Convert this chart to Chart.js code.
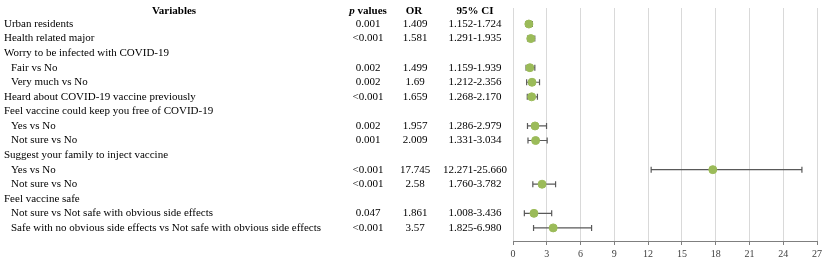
<!DOCTYPE html>
<html lang="en">
<head>
    <meta charset="UTF-8">
    <title>Forest plot</title>
    <script src="https://cdn.jsdelivr.net/npm/chart.js"></script>
    <style>
        html, body {
            margin: 0;
            padding: 0;
            background: #ffffff;
        }
        .chart-box {
            position: relative;
            width: 825px;
            height: 263px;
        }
    </style>
</head>
<body>

<div class="chart-box">
    <canvas id="myChart"></canvas>
</div>

<script>
    // table rows
    const labels = [
        'Urban residents',
        'Health related major',
        'Worry to be infected with COVID-19',
        'Fair vs No',
        'Very much vs No',
        'Heard about COVID-19 vaccine previously',
        'Feel vaccine could keep you free of COVID-19',
        'Yes vs No',
        'Not sure vs No',
        'Suggest your family to inject vaccine',
        'Yes vs No',
        'Not sure vs No',
        'Feel vaccine safe',
        'Not sure vs Not safe with obvious side effects',
        'Safe with no obvious side effects vs Not safe with obvious side effects'
    ];
    const indent = [0, 0, 0, 1, 1, 0, 0, 1, 1, 0, 1, 1, 0, 1, 1];
    const pValues = ['0.001', '<0.001', '', '0.002', '0.002', '<0.001', '', '0.002', '0.001', '', '<0.001', '<0.001', '', '0.047', '<0.001'];
    const orValues = [1.409, 1.581, null, 1.499, 1.69, 1.659, null, 1.957, 2.009, null, 17.745, 2.58, null, 1.861, 3.57];
    const ciLow = [1.152, 1.291, null, 1.159, 1.212, 1.268, null, 1.286, 1.331, null, 12.271, 1.760, null, 1.008, 1.825];
    const ciHigh = [1.724, 1.935, null, 1.939, 2.356, 2.170, null, 2.979, 3.034, null, 25.660, 3.782, null, 3.436, 6.980];
    const xTicks = [0, 3, 6, 9, 12, 15, 18, 21, 24, 27];

    const points = [];
    orValues.forEach((v, i) => {
        if (v !== null) points.push({ x: v, y: i });
    });

    const serif = '"Liberation Serif", "Times New Roman", serif';
    const fontSize = 11;

    // table text on the left
    const tablePlugin = {
        id: 'tableText',
        afterDraw(chart) {
            const ctx = chart.ctx;
            const y = chart.scales.y;
            ctx.save();
            ctx.fillStyle = '#000000';
            ctx.textBaseline = 'middle';

            // header
            const hy = 11;
            const bold = 'bold ' + fontSize + 'px ' + serif;
            const boldItalic = 'italic bold ' + fontSize + 'px ' + serif;
            ctx.font = bold;
            ctx.textAlign = 'center';
            ctx.fillText('Variables', 174, hy);
            ctx.fillText('OR', 414, hy);
            ctx.fillText('95% CI', 475, hy);
            // "p values" with italic p
            ctx.font = boldItalic;
            const pw = ctx.measureText('p').width;
            ctx.font = bold;
            const vw = ctx.measureText(' values').width;
            const startX = 368 - (pw + vw) / 2;
            ctx.textAlign = 'left';
            ctx.font = boldItalic;
            ctx.fillText('p', startX, hy);
            ctx.font = bold;
            ctx.fillText(' values', startX + pw, hy);

            // rows
            ctx.font = fontSize + 'px ' + serif;
            labels.forEach((lab, i) => {
                const py = y.getPixelForValue(i);
                ctx.textAlign = 'left';
                ctx.fillText(lab, indent[i] ? 11 : 4, py);
                if (orValues[i] !== null) {
                    ctx.textAlign = 'center';
                    ctx.fillText(pValues[i], 368, py);
                    ctx.fillText(String(orValues[i]), 415, py);
                    ctx.fillText(ciLow[i].toFixed(3) + '-' + ciHigh[i].toFixed(3), 475, py);
                }
            });
            ctx.restore();
        }
    };

    // error bars behind the markers
    const errorBarPlugin = {
        id: 'errorBars',
        beforeDatasetsDraw(chart) {
            const ctx = chart.ctx;
            const x = chart.scales.x;
            const y = chart.scales.y;
            ctx.save();
            ctx.strokeStyle = '#595959';
            ctx.lineWidth = 1.2;
            orValues.forEach((v, i) => {
                if (v === null) return;
                const py = y.getPixelForValue(i);
                const x1 = x.getPixelForValue(ciLow[i]);
                const x2 = x.getPixelForValue(ciHigh[i]);
                ctx.beginPath();
                ctx.moveTo(x1, py);
                ctx.lineTo(x2, py);
                ctx.moveTo(x1, py - 3);
                ctx.lineTo(x1, py + 3);
                ctx.moveTo(x2, py - 3);
                ctx.lineTo(x2, py + 3);
                ctx.stroke();
            });
            ctx.restore();
        }
    };

    const ctx = document.getElementById('myChart').getContext('2d');
    const myChart = new Chart(ctx, {
        type: 'scatter',
        data: {
            datasets: [{
                label: 'OR',
                data: points,
                backgroundColor: '#9bbb59',
                borderColor: '#9bbb59',
                pointRadius: 4,
                pointHoverRadius: 4
            }]
        },
        options: {
            responsive: true,
            maintainAspectRatio: false,
            animation: false,
            layout: {
                padding: { left: 513, right: 2, top: 8, bottom: 0 }
            },
            plugins: {
                legend: { display: false },
                tooltip: { enabled: false }
            },
            scales: {
                x: {
                    type: 'linear',
                    min: 0,
                    max: 27,
                    afterBuildTicks: axis => {
                        axis.ticks = xTicks.map(v => ({ value: v }));
                    },
                    grid: {
                        color: '#d9d9d9',
                        lineWidth: 1,
                        drawTicks: true,
                        tickLength: 4,
                        tickColor: '#7f7f7f'
                    },
                    border: {
                        color: '#7f7f7f',
                        width: 1
                    },
                    ticks: {
                        color: '#404040',
                        padding: 3,
                        maxRotation: 0,
                        font: { family: serif, size: 10 }
                    }
                },
                y: {
                    type: 'linear',
                    display: false,
                    reverse: true,
                    min: -1.1,
                    max: 14.9
                }
            }
        },
        plugins: [tablePlugin, errorBarPlugin]
    });
</script>

</body>
</html>
